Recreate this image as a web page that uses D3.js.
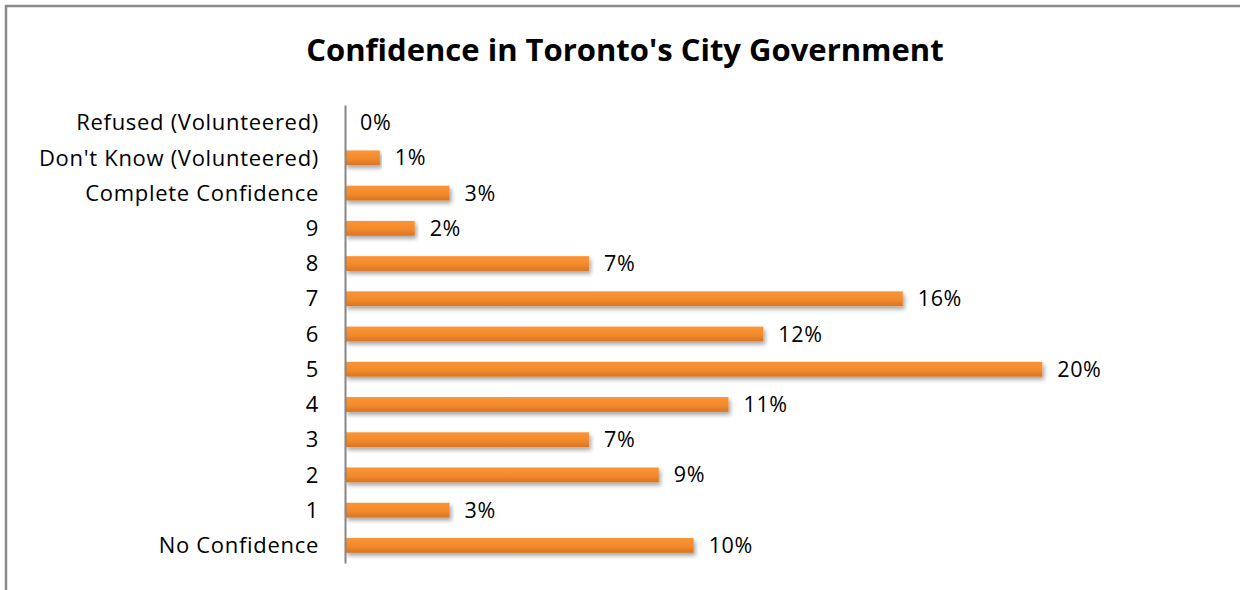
<!DOCTYPE html>
<html><head><meta charset="utf-8">
<script src="https://cdn.jsdelivr.net/npm/d3@7"></script>
<style>body{margin:0;background:#fff}svg{display:block}</style>
</head><body>
<script>
const categories = ["Refused (Volunteered)","Don't Know (Volunteered)","Complete Confidence","9","8","7","6","5","4","3","2","1","No Confidence"];
const values = [0,1,3,2,7,16,12,20,11,7,9,3,10];
const labels = ["0%","1%","3%","2%","7%","16%","12%","20%","11%","7%","9%","3%","10%"];
const title = "Confidence in Toronto's City Government";

const W=1240,H=590;
const FONT="'Open Sans', sans-serif";
const svg=d3.select("body").append("svg").attr("width",W).attr("height",H);
const defs=svg.append("defs");
const g=defs.append("linearGradient").attr("id","bg").attr("x1",0).attr("y1",0).attr("x2",0).attr("y2",1);
g.append("stop").attr("offset","0%").attr("stop-color","#fa9535");
g.append("stop").attr("offset","55%").attr("stop-color","#f38a2c");
g.append("stop").attr("offset","100%").attr("stop-color","#d87424");
const f=defs.append("filter").attr("id","sh").attr("x","-5%").attr("y","-50%").attr("width","110%").attr("height","250%");
f.append("feGaussianBlur").attr("in","SourceAlpha").attr("stdDeviation",2);
f.append("feOffset").attr("dx",2).attr("dy",3).attr("result","o");
f.append("feComponentTransfer").append("feFuncA").attr("type","linear").attr("slope",0.35);
const m=f.append("feMerge");m.append("feMergeNode");m.append("feMergeNode").attr("in","SourceGraphic");

svg.append("rect").attr("x",6).attr("y",6).attr("width",W+10).attr("height",H+10).attr("fill","#fff").attr("stroke","#8c8c8c").attr("stroke-width",2.5);

svg.append("text").attr("x",625).attr("y",61).attr("text-anchor","middle")
 .attr("font-family",FONT).attr("font-weight","bold").attr("font-size",31).attr("fill","#000").text(title);

const x=d3.scaleLinear().domain([0,22]).range([345,1112]);
const y=d3.scaleBand().domain(categories).range([105,563]).paddingInner(0.58).paddingOuter(0.29);

svg.append("g").selectAll("rect").data(categories).join("rect")
 .attr("x",x(0)).attr("y",d=>y(d)).attr("height",y.bandwidth())
 .attr("width",(d,i)=>x(values[i])-x(0)).attr("fill","url(#bg)").attr("filter","url(#sh)");

const ax=svg.append("g").attr("transform",`translate(${x(0)},0)`).call(d3.axisLeft(y).tickSize(0).tickPadding(26));
ax.select(".domain").attr("stroke","#868686").attr("stroke-width",2);
ax.selectAll("text").attr("font-family",FONT).attr("font-size",22).attr("letter-spacing","0.7px").attr("fill","#000").attr("dy","0.35em");

svg.append("g").selectAll("text").data(categories).join("text")
 .attr("x",(d,i)=>x(values[i])+15).attr("y",d=>y(d)+y.bandwidth()/2).attr("dy","0.35em")
 .attr("font-family",FONT).attr("font-size",21.5).attr("letter-spacing","0.6px").attr("fill","#000")
 .text((d,i)=>labels[i]);
</script>
</body></html>
